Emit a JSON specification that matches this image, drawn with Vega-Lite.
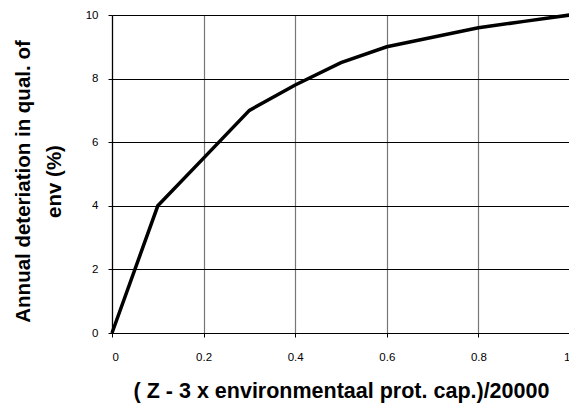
{
  "$schema": "https://vega.github.io/schema/vega-lite/v6.json",
  "autosize": {"type": "none"},
  "width": 458,
  "height": 318,
  "padding": {"left": 112, "top": 15, "right": 0, "bottom": 71},
  "background": "white",
  "config": {
    "view": {"stroke": null},
    "font": "Liberation Sans"
  },
  "data": {
    "values": [
      {"x": 0, "y": 0},
      {"x": 0.1, "y": 4},
      {"x": 0.2, "y": 5.5},
      {"x": 0.3, "y": 7},
      {"x": 0.4, "y": 7.8},
      {"x": 0.5, "y": 8.5},
      {"x": 0.6, "y": 9},
      {"x": 0.7, "y": 9.3},
      {"x": 0.8, "y": 9.6},
      {"x": 0.9, "y": 9.8},
      {"x": 1.0, "y": 10}
    ]
  },
  "mark": {"type": "line", "color": "black", "strokeWidth": 3.5, "strokeJoin": "miter"},
  "encoding": {
    "x": {
      "field": "x", "type": "quantitative",
      "scale": {"domain": [0, 1], "nice": false, "zero": false},
      "axis": {
        "values": [0, 0.2, 0.4, 0.6, 0.8, 1],
        "format": "~g",
        "title": "( Z - 3 x environmentaal prot. cap.)/20000",
        "titleFont": "Liberation Sans", "titleFontSize": 21.5, "titleFontWeight": "bold", "titleColor": "black",
        "titleBaseline": "alphabetic", "titleY": 64,
        "labelFont": "Liberation Sans", "labelFontSize": 11.5, "labelColor": "black",
        "labelPadding": 14, "tickSize": 4, "tickColor": "black",
        "domainColor": "black", "domainWidth": 1.2,
        "grid": true, "gridColor": "#777777", "gridWidth": 1.2, "gridOpacity": 1
      }
    },
    "y": {
      "field": "y", "type": "quantitative",
      "scale": {"domain": [0, 10], "nice": false},
      "axis": {
        "values": [0, 2, 4, 6, 8, 10],
        "title": ["Annual deteriation in qual. of", "env (%)"],
        "titleFont": "Liberation Sans", "titleFontSize": 20.5, "titleFontWeight": "bold", "titleColor": "black",
        "titleAngle": -90, "titleAlign": "center", "titleBaseline": "alphabetic",
        "titleX": -83, "titleY": 166, "titleLineHeight": 31,
        "labelFont": "Liberation Sans", "labelFontSize": 11.5, "labelColor": "black",
        "labelPadding": 10, "tickSize": 4, "tickColor": "black",
        "domainColor": "black", "domainWidth": 1.2,
        "grid": true, "gridColor": "black", "gridWidth": 1.2, "gridOpacity": 1
      }
    }
  }
}
